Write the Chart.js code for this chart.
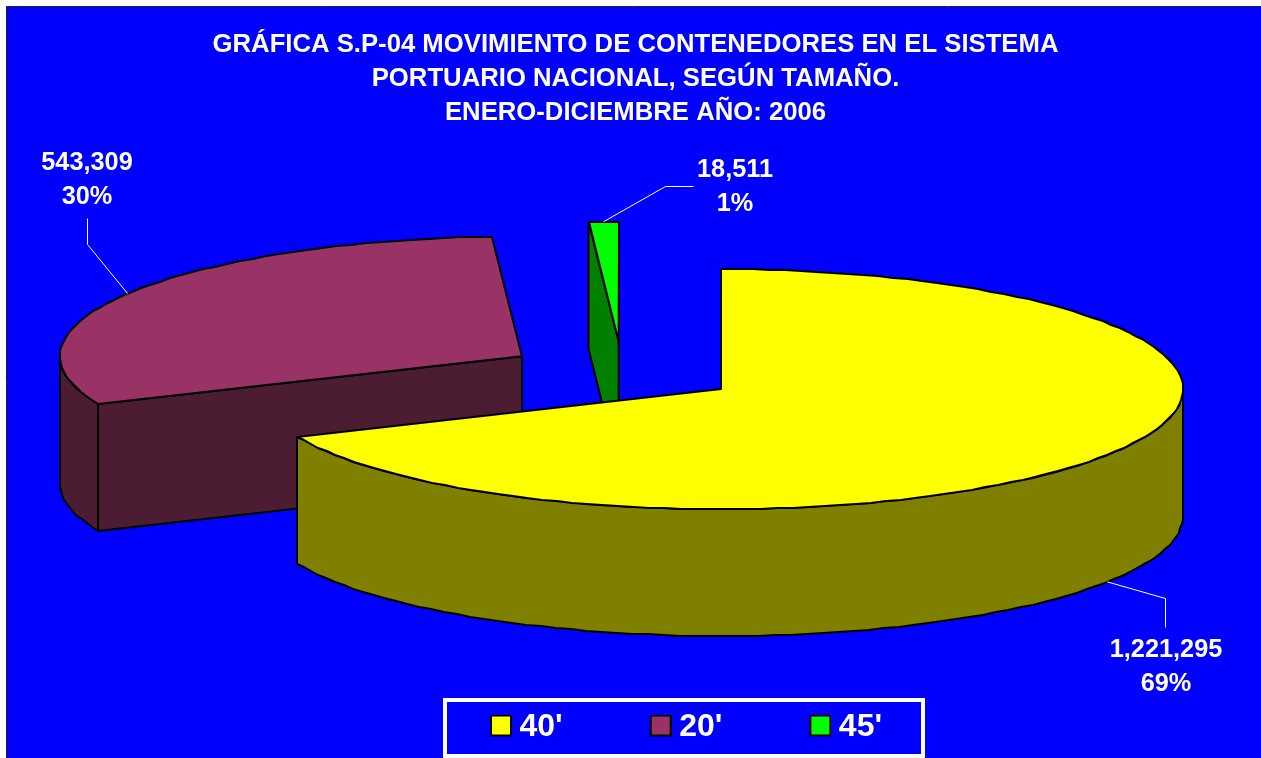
<!DOCTYPE html>
<html><head><meta charset="utf-8">
<style>html,body{margin:0;padding:0;background:#fff;overflow:hidden}canvas{display:block}</style>
<script src="https://cdn.jsdelivr.net/npm/chart.js@4/dist/chart.umd.min.js"></script>
</head><body><canvas id="c" width="1261" height="758"></canvas>
<script>
const categories = ["40'", "20'", "45'"];
const containerMoves = [1221295, 543309, 18511];
const percentLabels = ["69%", "30%", "1%"];
const titleLines = ["GRÁFICA S.P-04 MOVIMIENTO DE CONTENEDORES EN EL SISTEMA", "PORTUARIO NACIONAL, SEGÚN TAMAÑO.", "ENERO-DICIEMBRE AÑO: 2006"];
const topColors = ["#ffff00", "#993366", "#00ff00"];
const sideColors = ["#808000", "#4c1c33", "#008000"];

const FONT = '"Liberation Sans", Arial, sans-serif';
const view = {cx: 622.5, cy: 372.2, rx: 462, ry: 120, depth: 127, explode: 0.255};
// label centre + elbow, relative to page, per slice
const callouts = [
  {lx: 1166, ly: 650, elbow: [[1165, 598], [1165, 627]], wall: true},
  {lx: 87, ly: 163, elbow: [[87, 244], [87, 218]], wall: false},
  {lx: 735, ly: 170, elbow: [[665, 186], [693, 186]], wall: false}
];

function sliceGeom(arc) {
  const mid = (arc.startAngle + arc.endAngle) / 2;
  const cx = view.cx + Math.cos(mid) * view.rx * view.explode;
  const cy = view.cy + Math.sin(mid) * view.ry * view.explode;
  return {cx, cy, mid, start: arc.startAngle, end: arc.endAngle};
}
function rimPoints(g, a0, a1, dy) {
  const pts = [], step = 2 * Math.PI / 180;
  const n = Math.max(1, Math.ceil(Math.abs(a1 - a0) / step));
  for (let i = 0; i <= n; i++) {
    const a = a0 + (a1 - a0) * i / n;
    pts.push([Math.round(g.cx + Math.cos(a) * view.rx), Math.round(g.cy + Math.sin(a) * view.ry + dy)]);
  }
  return pts;
}
function poly(ctx, pts, fill) {
  ctx.beginPath();
  pts.forEach((p, i) => i ? ctx.lineTo(p[0], p[1]) : ctx.moveTo(p[0], p[1]));
  ctx.closePath();
  ctx.fillStyle = fill; ctx.fill();
  ctx.strokeStyle = '#000'; ctx.lineWidth = 2; ctx.lineJoin = 'round'; ctx.stroke();
}
function radialFace(ctx, g, a, fill) {
  const c = [g.cx, g.cy];
  const r = [g.cx + Math.cos(a) * view.rx, g.cy + Math.sin(a) * view.ry];
  poly(ctx, [c, r, [r[0], r[1] + view.depth], [c[0], c[1] + view.depth]], fill);
}
function legendSwatch(color) {
  const s = document.createElement('canvas'); s.width = 30; s.height = 26;
  const x = s.getContext('2d');
  x.fillStyle = color; x.fillRect(9, 1, 20, 20);
  x.strokeStyle = '#000'; x.lineWidth = 2; x.strokeRect(9, 1, 20, 20);
  return s;
}

const pie3d = {
  id: 'pie3d',
  beforeDraw(chart) {
    const ctx = chart.ctx;
    ctx.save();
    ctx.fillStyle = '#fff'; ctx.fillRect(0, 0, 1261, 758);
    ctx.fillStyle = '#0000ff'; ctx.fillRect(7, 7, 1254, 751);
    ctx.strokeStyle = '#222'; ctx.lineWidth = 1;
    ctx.beginPath(); ctx.moveTo(6.5, 758); ctx.lineTo(6.5, 6.5); ctx.lineTo(1261, 6.5); ctx.stroke();
    ctx.strokeStyle = '#fff'; ctx.lineWidth = 4;
    ctx.strokeRect(445, 700, 478, 56);
    ctx.restore();
  },
  afterLayout(chart) {
    const l = chart.legend;
    l.left = 372.5; l.right = 1000; l.top = 624; l.bottom = 754;
  },
  beforeDatasetDraw(chart, args) {
    const ctx = chart.ctx;
    const arcs = chart.getDatasetMeta(args.index).data;
    const order = arcs.map((a, i) => ({i, g: sliceGeom(a)})).sort((p, q) => p.g.cy - q.g.cy);
    ctx.save();
    order.forEach(({i, g}) => {
      const side = sideColors[i];
      if (Math.cos(g.start) < -1e-6) radialFace(ctx, g, g.start, side);
      if (Math.cos(g.end) > 1e-6) radialFace(ctx, g, g.end, side);
      const a0 = Math.max(g.start, 0), a1 = Math.min(g.end, Math.PI);
      if (a1 > a0) {
        const upper = rimPoints(g, a0, a1, 0), lower = rimPoints(g, a1, a0, view.depth);
        poly(ctx, upper.concat(lower), side);
      }
      poly(ctx, [[g.cx, g.cy]].concat(rimPoints(g, g.start, g.end, 0)), topColors[i]);
    });
    ctx.restore();
    return false;
  },
  afterDatasetsDraw(chart) {
    const ctx = chart.ctx;
    const arcs = chart.getDatasetMeta(0).data;
    ctx.save();
    arcs.forEach((arc, i) => {
      const g = sliceGeom(arc), c = callouts[i];
      const ax = g.cx + Math.cos(g.mid) * view.rx;
      const ay = g.cy + Math.sin(g.mid) * view.ry + (c.wall ? view.depth : 0);
      ctx.strokeStyle = '#ffffff'; ctx.lineWidth = 1;
      ctx.beginPath(); ctx.moveTo(ax, ay);
      c.elbow.forEach(p => ctx.lineTo(p[0] + .5, p[1] + .5));
      ctx.stroke();
      ctx.fillStyle = '#fff'; ctx.font = 'bold 25.3px ' + FONT;
      ctx.textAlign = 'center'; ctx.textBaseline = 'middle';
      ctx.fillText(containerMoves[i].toLocaleString('en-US'), c.lx, c.ly);
      ctx.fillText(percentLabels[i], c.lx, c.ly + 34);
    });
    ctx.restore();
  }
};

new Chart(document.getElementById('c'), {
  type: 'pie',
  data: {labels: categories, datasets: [{data: containerMoves, backgroundColor: topColors, borderColor: '#000', borderWidth: 2}]},
  options: {
    responsive: false, animation: false,
    layout: {padding: {left: 10, top: 10}},
    events: [],
    plugins: {
      tooltip: {enabled: false},
      title: {display: true, text: titleLines, color: '#fff', padding: {top: 18, bottom: 6},
        font: {family: FONT, size: 25.7, weight: 'bold', lineHeight: 34 / 25.7}},
      legend: {display: true, position: 'bottom',
        labels: {boxWidth: 13, boxHeight: 21, usePointStyle: true, pointStyleWidth: 13, padding: 87.5, color: '#fff',
          font: {family: FONT, size: 32, weight: 'bold'},
          generateLabels: ch => ch.data.labels.map((t, i) => ({text: t, fontColor: '#fff', pointStyle: legendSwatch(topColors[i]), hidden: false, index: i, lineWidth: 0, strokeStyle: 'transparent', fillStyle: topColors[i]}))
        }}
    }
  },
  plugins: [pie3d]
});
</script></body></html>
